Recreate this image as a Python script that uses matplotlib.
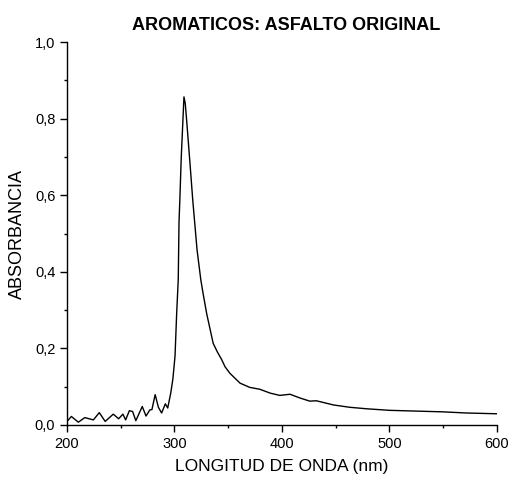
import matplotlib
matplotlib.use('Agg')
import matplotlib.pyplot as plt
from matplotlib.ticker import MultipleLocator, FuncFormatter

plt.rcParams['font.family'] = ['Liberation Sans', 'DejaVu Sans']

# longitud de onda (nm) y absorbancia
wl = [200, 204, 210.5, 216.5, 224.5, 230, 235.5, 243, 248, 252, 254.5, 258,
      261, 264, 270, 273.5, 277, 279, 282, 285, 288, 291.5, 293.7, 296.5,
      298.5, 300.5, 302, 303.5, 304.2, 305, 306.3, 308.8, 310, 311.3, 314.4,
      317, 321, 324.5, 326.5, 330, 336, 340, 344, 347, 351.5, 361, 370,
      379.5, 389, 398, 407.5, 417, 426, 432, 448, 463, 479, 500, 525, 550,
      572, 600]
absorb = [0.009, 0.022, 0.007, 0.019, 0.013, 0.032, 0.009, 0.028, 0.016,
          0.028, 0.013, 0.037, 0.035, 0.011, 0.048, 0.023, 0.039, 0.040,
          0.079, 0.046, 0.031, 0.055, 0.044, 0.083, 0.12, 0.18, 0.29, 0.38,
          0.53, 0.59, 0.70, 0.857, 0.84, 0.796, 0.684, 0.587, 0.457, 0.379,
          0.345, 0.29, 0.213, 0.19, 0.170, 0.152, 0.135, 0.109, 0.098, 0.093,
          0.083, 0.077, 0.080, 0.070, 0.062, 0.063, 0.052, 0.046, 0.042,
          0.038, 0.036, 0.034, 0.031, 0.029]

fig = plt.figure(figsize=(5.08, 4.79), dpi=100)
ax = fig.add_axes([0.132, 0.113, 0.846, 0.799])
ax.plot(wl, absorb, color='black', lw=1.0)

ax.set_xlim(200, 600)
ax.set_ylim(0, 1.0)
ax.xaxis.set_major_locator(MultipleLocator(100))
ax.xaxis.set_minor_locator(MultipleLocator(50))
ax.yaxis.set_major_locator(MultipleLocator(0.2))
ax.yaxis.set_minor_locator(MultipleLocator(0.1))
ax.yaxis.set_major_formatter(FuncFormatter(lambda v, p: ('%.1f' % v).replace('.', ',')))

ax.spines['top'].set_visible(False)
ax.spines['right'].set_visible(False)
for s in ['left', 'bottom']:
    ax.spines[s].set_linewidth(1.0)
ax.tick_params(which='major', direction='out', length=5, width=1, labelsize=10.5)
ax.tick_params(which='minor', direction='out', length=2.5, width=1)

ax.set_xlabel('LONGITUD DE ONDA (nm)', fontsize=12.5, labelpad=6)
ax.set_ylabel('ABSORBANCIA', fontsize=13, labelpad=6)
ax.set_title('AROMATICOS: ASFALTO ORIGINAL', fontsize=13, fontweight='bold',
             pad=9, x=0.51)

fig.savefig('out.png', dpi=100)
